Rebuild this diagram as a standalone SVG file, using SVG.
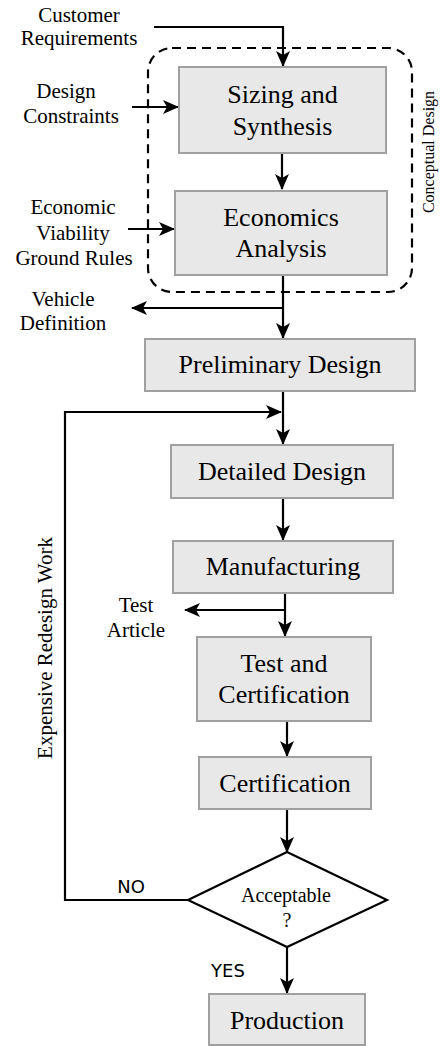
<svg xmlns="http://www.w3.org/2000/svg" width="441" height="1046" viewBox="0 0 441 1046">
<style>
.box{fill:#e8e8e8;stroke:#a0a0a0;stroke-width:2}
.bt{font-family:"Liberation Serif","Times New Roman",serif;font-size:26px;fill:#000;text-anchor:middle}
.lb{font-family:"Liberation Serif","Times New Roman",serif;font-size:21px;fill:#000;text-anchor:middle}
.sn{font-family:"DejaVu Sans","Liberation Sans",sans-serif;font-size:18px;fill:#000;text-anchor:middle}
.ln{fill:none;stroke:#000;stroke-width:2.2}
.ar{marker-end:url(#ah)}
</style>
<defs>
<marker id="ah" viewBox="0 0 16 14" refX="15" refY="7" markerWidth="16" markerHeight="14" markerUnits="userSpaceOnUse" orient="auto">
<path d="M0,0 L16,7 L0,14 L4,7 Z" fill="#000"/>
</marker>
</defs>
<rect width="441" height="1046" fill="#fff"/>

<g id="conceptual-group">
<rect x="148" y="48" width="264" height="244" rx="24" ry="24" fill="none" stroke="#000" stroke-width="2.2" stroke-dasharray="9,6"/>
<text class="lb" style="font-size:16px" transform="translate(434,152) rotate(-90)">Conceptual Design</text>
</g>

<g id="connectors">
<path class="ln ar" d="M154,27 H283 V66"/>
<path class="ln ar" d="M132,107 H178"/>
<path class="ln ar" d="M282,153 V189"/>
<path class="ln ar" d="M128,229 H174"/>
<path class="ln ar" d="M283,275 V338"/>
<path class="ln ar" d="M283,308 H132"/>
<path class="ln ar" d="M283,391 V444"/>
<path class="ln ar" d="M188,900 H65 V412 H281"/>
<path class="ln ar" d="M283,498 V540"/>
<path class="ln ar" d="M285,593 V636"/>
<path class="ln ar" d="M285,610 H185"/>
<path class="ln ar" d="M287,721 V756"/>
<path class="ln ar" d="M287,809 V852"/>
<path class="ln ar" d="M287,947 V993"/>
</g>

<g id="label-customer"><text class="lb" x="79" y="22">Customer</text><text class="lb" x="79" y="45">Requirements</text></g>
<g id="label-constraints"><text class="lb" x="66" y="98">Design</text><text class="lb" x="71" y="123">Constraints</text></g>
<g id="label-economic"><text class="lb" x="73" y="214">Economic</text><text class="lb" x="73" y="240">Viability</text><text class="lb" x="74" y="265">Ground Rules</text></g>
<g id="label-vehicle"><text class="lb" x="63" y="306">Vehicle</text><text class="lb" x="63" y="330">Definition</text></g>
<g id="label-test-article"><text class="lb" x="136" y="612">Test</text><text class="lb" x="136" y="637">Article</text></g>
<g id="label-redesign"><text class="lb" transform="translate(52,648) rotate(-90)">Expensive Redesign Work</text></g>
<g id="label-no"><text class="sn" x="131" y="893">NO</text></g>
<g id="label-yes"><text class="sn" x="228" y="977">YES</text></g>

<g id="sizing"><rect class="box" x="179" y="67" width="207" height="86"/><text class="bt" x="282.5" y="103">Sizing and</text><text class="bt" x="282.5" y="135">Synthesis</text></g>
<g id="economics"><rect class="box" x="175" y="191" width="212" height="84"/><text class="bt" x="281" y="226">Economics</text><text class="bt" x="281" y="257">Analysis</text></g>
<g id="preliminary"><rect class="box" x="145" y="339" width="270" height="52"/><text class="bt" x="280" y="373">Preliminary Design</text></g>
<g id="detailed"><rect class="box" x="171" y="445" width="222" height="53"/><text class="bt" x="282" y="480">Detailed Design</text></g>
<g id="manufacturing"><rect class="box" x="173" y="541" width="220" height="52"/><text class="bt" x="283" y="575">Manufacturing</text></g>
<g id="test-cert"><rect class="box" x="197" y="637" width="174" height="84"/><text class="bt" x="284" y="672">Test and</text><text class="bt" x="284" y="703">Certification</text></g>
<g id="certification"><rect class="box" x="199" y="757" width="172" height="52"/><text class="bt" x="285" y="792">Certification</text></g>
<g id="acceptable"><polygon points="287,852 387,900 287,947 188,900" fill="#fff" stroke="#000" stroke-width="2.2"/><text class="lb" style="font-size:20px" x="286" y="902">Acceptable</text><text class="lb" style="font-size:20px" x="287" y="927">?</text></g>
<g id="production"><rect class="box" x="209" y="994" width="156" height="51"/><text class="bt" x="287" y="1029">Production</text></g>
</svg>
